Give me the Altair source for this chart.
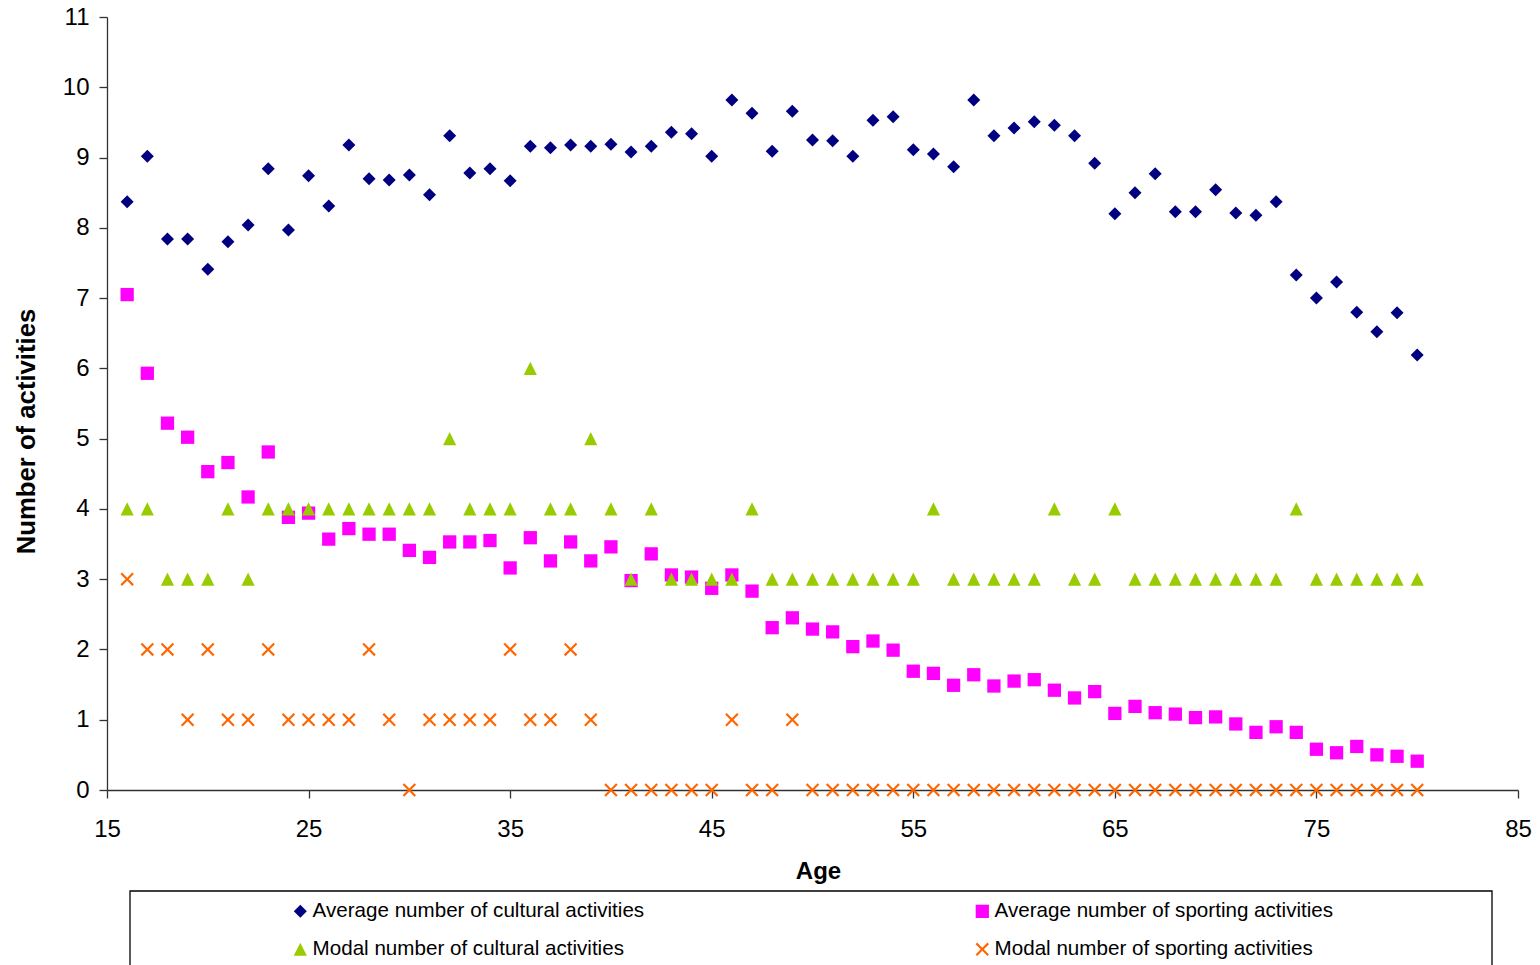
import altair as alt
import pandas as pd

ages = list(range(16, 81))

avg_cultural = [8.37, 9.02, 7.84, 7.84, 7.41, 7.80, 8.04, 8.84, 7.97, 8.74,
                8.31, 9.18, 8.70, 8.68, 8.75, 8.47, 9.31, 8.78, 8.84, 8.67,
                9.16, 9.14, 9.18, 9.16, 9.19, 9.08, 9.16, 9.36, 9.34, 9.02,
                9.82, 9.63, 9.09, 9.66, 9.25, 9.24, 9.02, 9.53, 9.58, 9.11,
                9.05, 8.87, 9.82, 9.31, 9.42, 9.51, 9.46, 9.31, 8.92, 8.20,
                8.50, 8.77, 8.23, 8.23, 8.54, 8.21, 8.18, 8.37, 7.33, 7.00,
                7.23, 6.80, 6.52, 6.79, 6.19]

avg_sporting = [7.05, 5.93, 5.22, 5.02, 4.53, 4.66, 4.17, 4.81, 3.88, 3.94,
                3.57, 3.72, 3.64, 3.64, 3.41, 3.31, 3.53, 3.53, 3.55, 3.16,
                3.59, 3.26, 3.53, 3.26, 3.46, 2.98, 3.36, 3.06, 3.03, 2.87,
                3.06, 2.83, 2.31, 2.45, 2.29, 2.25, 2.04, 2.12, 1.99, 1.69,
                1.66, 1.49, 1.64, 1.48, 1.55, 1.57, 1.42, 1.31, 1.40, 1.09,
                1.19, 1.10, 1.08, 1.03, 1.04, 0.94, 0.82, 0.90, 0.82, 0.58,
                0.53, 0.62, 0.50, 0.48, 0.41]

modal_cultural = [4, 4, 3, 3, 3, 4, 3, 4, 4, 4,
                  4, 4, 4, 4, 4, 4, 5, 4, 4, 4,
                  6, 4, 4, 5, 4, 3, 4, 3, 3, 3,
                  3, 4, 3, 3, 3, 3, 3, 3, 3, 3,
                  4, 3, 3, 3, 3, 3, 4, 3, 3, 4,
                  3, 3, 3, 3, 3, 3, 3, 3, 4, 3,
                  3, 3, 3, 3, 3]

modal_sporting = [3, 2, 2, 1, 2, 1, 1, 2, 1, 1,
                  1, 1, 2, 1, 0, 1, 1, 1, 1, 2,
                  1, 1, 2, 1, 0, 0, 0, 0, 0, 0,
                  1, 0, 0, 1, 0, 0, 0, 0, 0, 0,
                  0, 0, 0, 0, 0, 0, 0, 0, 0, 0,
                  0, 0, 0, 0, 0, 0, 0, 0, 0, 0,
                  0, 0, 0, 0, 0]

# drawing order: cultural avg, sporting avg, modal cultural, modal sporting
series_names = ["Average number of cultural activities",
                "Average number of sporting activities",
                "Modal number of cultural activities",
                "Modal number of sporting activities"]
series_values = [avg_cultural, avg_sporting, modal_cultural, modal_sporting]
series_colors = ["#000080", "#FF00FF", "#99CC00", "#FF6600"]
x_path = ("M0.23,0L1,0.77L0.77,1L0,0.23L-0.77,1L-1,0.77L-0.23,0"
          "L-1,-0.77L-0.77,-1L0,-0.23L0.77,-1L1,-0.77Z")
series_shapes = ["diamond", "square", "M0,-1L1,1L-1,1Z", x_path]
series_sizes = [169, 196, 180, 180]

# legend order (legend grid fills column by column)
legend_order = [0, 2, 1, 3]
leg_names = [series_names[i] for i in legend_order]
leg_colors = [series_colors[i] for i in legend_order]
leg_shapes = [series_shapes[i] for i in legend_order]
leg_sizes = [series_sizes[i] for i in legend_order]

x_ticks = [15, 25, 35, 45, 55, 65, 75, 85]
y_ticks = list(range(0, 12))

rows = []
for i, (name, vals) in enumerate(zip(series_names, series_values)):
    for a, v in zip(ages, vals):
        rows.append({"Age": a, "Value": v, "Series": name, "order": i})
df = pd.DataFrame(rows)

FONT = "Liberation Sans"

points = alt.Chart(df).mark_point(filled=True, opacity=1).encode(
    x=alt.X("Age:Q",
            scale=alt.Scale(domain=[15, 85], nice=False, zero=False),
            axis=alt.Axis(values=x_ticks, title="Age", grid=False,
                          labelFontSize=24, labelPadding=19, labelFlush=False,
                          titleFontSize=24, titleFontWeight="bold",
                          titleBaseline="alphabetic", titleY=88, titleX=711)),
    y=alt.Y("Value:Q",
            scale=alt.Scale(domain=[0, 11], nice=False),
            axis=alt.Axis(values=y_ticks, title="Number of activities", grid=False,
                          labelFontSize=24, labelPadding=10, labelFlush=False,
                          titleFontSize=25.7, titleFontWeight="bold",
                          titleAngle=270, titleBaseline="alphabetic",
                          titleX=-73, titleY=414)),
    color=alt.Color("Series:N",
                    scale=alt.Scale(domain=leg_names, range=leg_colors),
                    legend=alt.Legend(title=None, orient="none", legendX=183, legendY=884,
                                      columns=2, columnPadding=327, rowPadding=17,
                                      labelFontSize=20.6, labelFont=FONT, labelColor="black",
                                      labelOffset=2, symbolSize=100, symbolStrokeWidth=0,
                                      padding=0, labelLimit=600)),
    shape=alt.Shape("Series:N",
                    scale=alt.Scale(domain=leg_names, range=leg_shapes)),
    size=alt.Size("Series:N",
                  scale=alt.Scale(domain=leg_names, range=leg_sizes),
                  legend=None),
    order=alt.Order("order:Q"),
)

frame = alt.Chart(pd.DataFrame({"k": [0]})).mark_rect(
    fill="transparent", stroke="black", strokeWidth=1.3
).encode(
    x=alt.value(23), x2=alt.value(1385),
    y=alt.value(874), y2=alt.value(1100),
)

chart = alt.layer(points, frame).properties(
    width=1411, height=773,
    autosize=alt.AutoSizeParams(type="none"),
    padding={"left": 107, "top": 17, "right": 22, "bottom": 175},
).configure_axis(
    labelFont=FONT, titleFont=FONT, labelColor="black", titleColor="black",
    domainColor="#333333", tickColor="#333333", domainWidth=1.3, tickWidth=1.3,
    tickSize=8,
).configure_view(strokeWidth=0)

chart.save("out.html", embed_options={"renderer": "svg", "actions": False})
